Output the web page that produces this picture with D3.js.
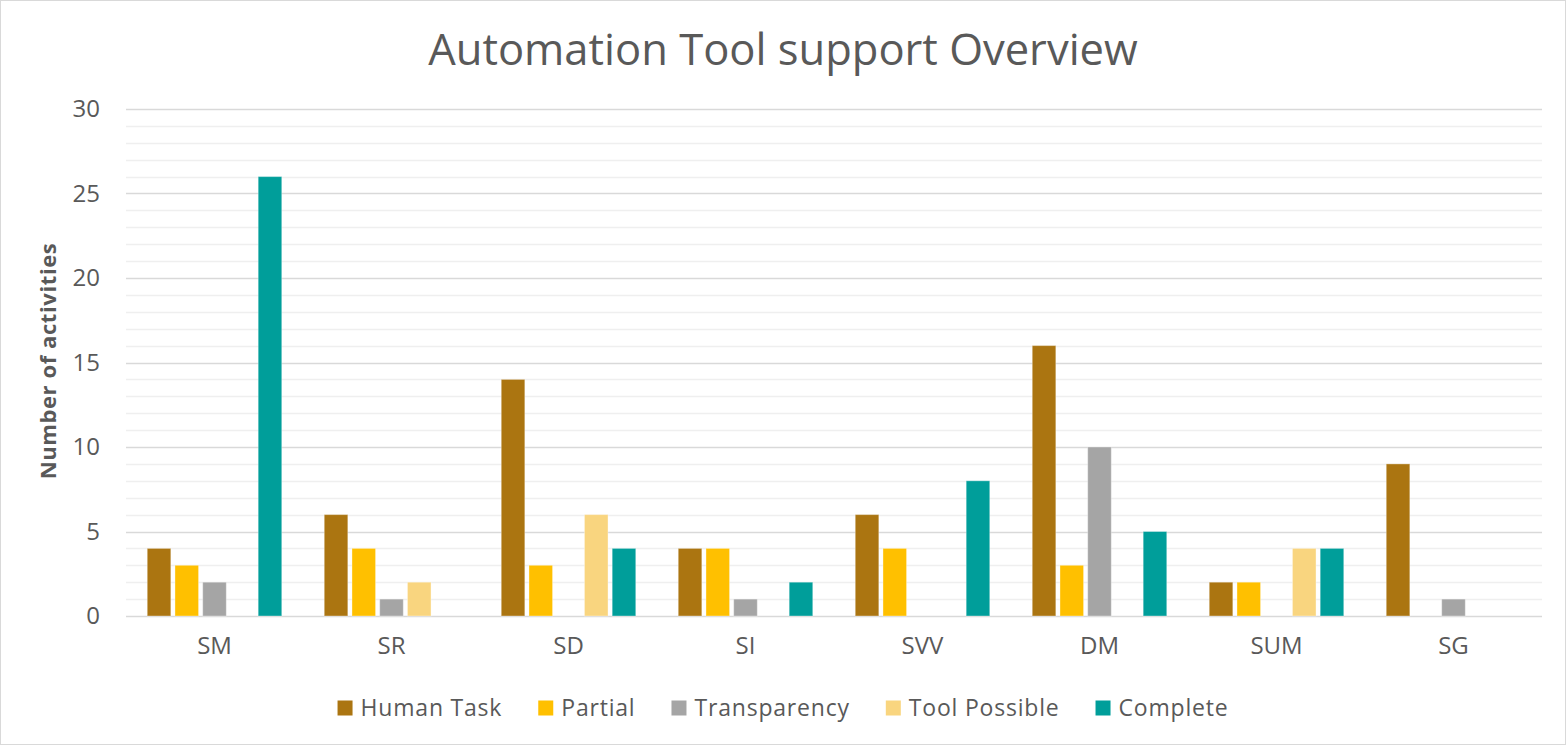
<!DOCTYPE html>
<html>
<head>
<meta charset="utf-8">
<script src="https://cdn.jsdelivr.net/npm/d3@7"></script>
<style>
  html, body { margin: 0; padding: 0; background: #fff; }
  svg { display: block; }
  text { font-family: "Open Sans", "Noto Sans", sans-serif; }
</style>
</head>
<body>
<svg id="chart" width="1566" height="745"></svg>
<script>
const categories = ["SM", "SR", "SD", "SI", "SVV", "DM", "SUM", "SG"];
const seriesNames = ["Human Task", "Partial", "Transparency", "Tool Possible", "Complete"];
const humanTask    = [4, 6, 14, 4, 6, 16, 2, 9];
const partial      = [3, 4, 3, 4, 4, 3, 2, 0];
const transparency = [2, 1, 0, 1, 0, 10, 0, 1];
const toolPossible = [0, 2, 6, 0, 0, 0, 4, 0];
const complete     = [26, 0, 4, 2, 8, 5, 4, 0];
const seriesColors = ["#AB7511", "#FFC000", "#A5A5A5", "#F9D57F", "#009E9A"];
const yTicks = [0, 5, 10, 15, 20, 25, 30];
const title = "Automation Tool support Overview";
const yLabel = "Number of activities";

const seriesValues = [humanTask, partial, transparency, toolPossible, complete];

const W = 1566, H = 745;
const margin = { left: 126, right: 24, top: 109, bottom: 129 };
const plotW = W - margin.left - margin.right;
const plotH = H - margin.top - margin.bottom;

const svg = d3.select("#chart");

// Outer border
svg.append("rect").attr("x", 0.5).attr("y", 0.5).attr("width", W - 1).attr("height", H - 1)
  .attr("fill", "#fff").attr("stroke", "#d9d9d9").attr("stroke-width", 1);

const x0 = d3.scaleBand().domain(categories).range([0, plotW]).paddingInner(0.24).paddingOuter(0.12);
const x1 = d3.scaleBand().domain(seriesNames).range([0, x0.bandwidth()]).paddingInner(0.15);
const y = d3.scaleLinear().domain([0, 30]).range([plotH, 0]);

const g = svg.append("g").attr("transform", `translate(${margin.left},${margin.top})`);

// minor gridlines
const minor = d3.range(0, 31).filter(v => v % 5 !== 0);
g.append("g").selectAll("line").data(minor).join("line")
  .attr("x1", 0).attr("x2", plotW)
  .attr("y1", d => Math.round(y(d)) + 0.5).attr("y2", d => Math.round(y(d)) + 0.5)
  .attr("stroke", "#efefef").attr("stroke-width", 1.5);

// major gridlines
g.append("g").selectAll("line").data(yTicks).join("line")
  .attr("x1", 0).attr("x2", plotW)
  .attr("y1", d => Math.round(y(d)) + 0.5).attr("y2", d => Math.round(y(d)) + 0.5)
  .attr("stroke", "#d9d9d9").attr("stroke-width", 1.5);

// y axis labels
const yAxis = d3.axisLeft(y).tickValues(yTicks).tickSize(0).tickPadding(26);
const ya = g.append("g").call(yAxis);
ya.select(".domain").remove();
ya.selectAll("text").attr("font-size", 24).attr("fill", "#595959")
  .style("font-family", "'Open Sans', sans-serif");

// bars
const groups = g.append("g").selectAll("g").data(categories).join("g")
  .attr("transform", d => `translate(${x0(d)},0)`);
groups.selectAll("rect").data((c, ci) => seriesNames.map((s, si) => ({ s, si, v: seriesValues[si][ci] })))
  .join("rect")
  .filter(d => d.v > 0)
  .attr("x", d => x1(d.s))
  .attr("width", x1.bandwidth())
  .attr("y", d => y(d.v))
  .attr("height", d => y(0) - y(d.v))
  .attr("fill", d => seriesColors[d.si])
  .attr("stroke", "#ffffff").attr("stroke-opacity", 0.35).attr("stroke-width", 1);

// x axis labels
const xAxis = d3.axisBottom(x0).tickSize(0).tickPadding(21);
const xa = g.append("g").attr("transform", `translate(0,${plotH})`).call(xAxis);
xa.select(".domain").remove();
xa.selectAll("text").attr("font-size", 24).attr("fill", "#595959")
  .style("font-family", "'Open Sans', sans-serif");

// title
svg.append("text").attr("x", W / 2).attr("y", 65).attr("text-anchor", "middle")
  .attr("font-size", 43.5).attr("fill", "#595959").text(title);

// y label
svg.append("text").attr("transform", `translate(56,361) rotate(-90)`)
  .attr("text-anchor", "middle").attr("font-size", 22).attr("font-weight", "bold")
  .attr("letter-spacing", 0.6)
  .attr("fill", "#595959").text(yLabel);

// legend
const legend = svg.append("g");
const legendY = 708;
const sq = 15, sqGap = 8, itemGap = 36;
const items = legend.selectAll("g").data(seriesNames).join("g");
items.append("rect").attr("width", sq).attr("height", sq).attr("y", legendY - sq / 2)
  .attr("fill", (d, i) => seriesColors[i]);
items.append("text").attr("x", sq + sqGap).attr("y", legendY).attr("dy", "0.35em")
  .attr("font-size", 23).attr("letter-spacing", 0.8).attr("fill", "#595959").text(d => d);
let widths = [];
items.each(function() { widths.push(this.getBBox().width); });
const total = d3.sum(widths) + itemGap * (widths.length - 1);
let cx = (W - total) / 2;
items.attr("transform", (d, i) => { const t = `translate(${cx},0)`; cx += widths[i] + itemGap; return t; });
</script>
</body>
</html>
